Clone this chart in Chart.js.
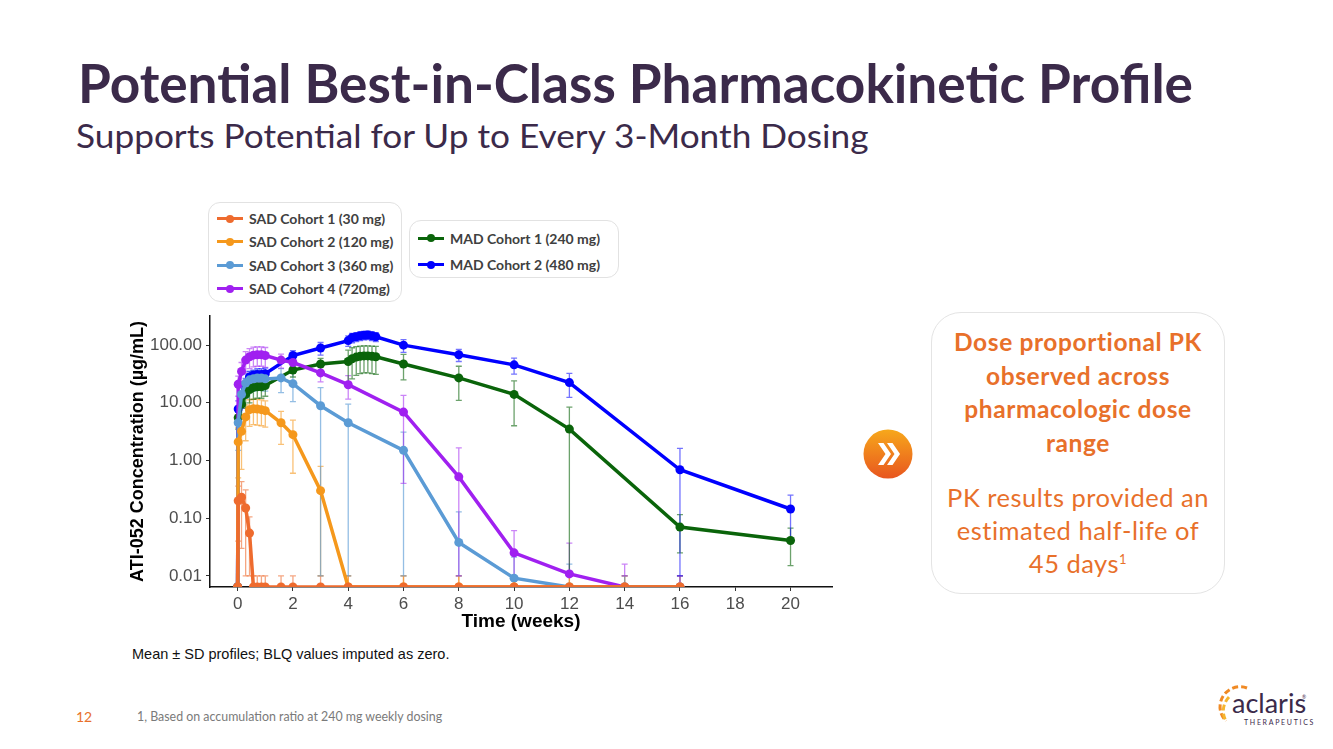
<!DOCTYPE html>
<html>
<head>
<meta charset="utf-8">
<script src="https://cdn.jsdelivr.net/npm/chart.js@4.4.1/dist/chart.umd.min.js"></script>
<style>
  html, body { margin: 0; padding: 0; background: #fff; }
  body { width: 1333px; height: 749px; position: relative; overflow: hidden; font-family: Lato, "Noto Sans", sans-serif; }
  .abs { position: absolute; white-space: nowrap; }
  #title { left: 78px; top: 56px; font-size: 53px; line-height: 1; font-weight: 700; color: #3b2a4a; transform-origin: 0 0; }
  #subtitle { left: 76px; top: 119px; font-size: 33px; line-height: 1; font-weight: 400; color: #3b2a4a; transform-origin: 0 0; }
  .legend-box { position: absolute; border: 1.5px solid #e2e2e2; border-radius: 12px; box-sizing: border-box; padding-top: 4px; }
  .legend-item { display: flex; align-items: center; font-size: 14px; font-weight: 700; color: #404040; }
  .legend-sample { position: relative; width: 26px; height: 3px; margin-left: 8px; margin-right: 6px; }
  .legend-sample i { position: absolute; left: 9px; top: -2.5px; width: 8px; height: 8px; border-radius: 50%; background: inherit; }
  #pk { position: absolute; left: 110px; top: 300px; }
  #note { left: 132px; top: 646px; font-family: "Liberation Sans", Arial, sans-serif; font-size: 14.5px; color: #111; }
  #callout { position: absolute; left: 931px; top: 312px; width: 294px; height: 282px; box-sizing: border-box; border: 1.5px solid #e4e4e4; border-radius: 30px; }
  #callout-bold { left: 931px; top: 325px; width: 294px; text-align: center; color: #e8702a; font-weight: 700; font-size: 24.5px; letter-spacing: 0.6px; line-height: 33.5px; white-space: normal; }
  #callout-reg { left: 931px; top: 481px; width: 294px; text-align: center; color: #e8702a; font-weight: 400; font-size: 25.5px; letter-spacing: 0.5px; line-height: 33px; white-space: normal; }
  #callout-reg sup { font-size: 13px; vertical-align: 9px; line-height: 0; }
  #pagenum { left: 76px; top: 708px; font-size: 14px; color: #e8702a; }
  #footnote { left: 137px; top: 709px; font-size: 12.4px; color: #7a7a7a; }
</style>
</head>
<body>

<div id="title" class="abs">Potential Best-in-Class Pharmacokinetic Profile</div>
<div id="subtitle" class="abs">Supports Potential for Up to Every 3-Month Dosing</div>

<div id="legend1" class="legend-box" style="left:208px;top:202px;width:194px;height:100px;"></div>
<div id="legend2" class="legend-box" style="left:409px;top:220px;width:210px;height:58px;"></div>

<canvas id="pk" width="740" height="340"></canvas>

<div id="note" class="abs">Mean ± SD profiles; BLQ values imputed as zero.</div>

<svg class="abs" style="left:863px;top:429px" width="50" height="50" viewBox="0 0 50 50">
  <defs>
    <linearGradient id="og" x1="0" y1="0" x2="0" y2="1">
      <stop offset="0" stop-color="#f7a81b"/>
      <stop offset="1" stop-color="#e8561f"/>
    </linearGradient>
  </defs>
  <circle cx="25" cy="25" r="24.5" fill="url(#og)"/>
  <path d="M15 14 L22.5 25 L15 36 L20.5 36 L28 25 L20.5 14 Z M24 14 L31.5 25 L24 36 L29.5 36 L37 25 L29.5 14 Z" fill="#fff"/>
</svg>

<div id="callout"></div>
<div id="callout-bold" class="abs">Dose proportional PK<br>observed across<br>pharmacologic dose<br>range</div>
<div id="callout-reg" class="abs">PK results provided an<br>estimated half-life of<br>45 days<sup>1</sup></div>

<div id="pagenum" class="abs">12</div>
<div id="footnote" class="abs">1, Based on accumulation ratio at 240 mg weekly dosing</div>

<svg class="abs" style="left:1205px;top:675px" width="125" height="60" viewBox="0 0 125 60">
  <path d="M42 13 A20 20 0 0 0 21 46" fill="none" stroke="#f08a24" stroke-width="3" stroke-dasharray="6 3"/>
  <path d="M24 22 A20 20 0 0 0 21 46" fill="none" stroke="#f5b52e" stroke-width="3" stroke-dasharray="6 3"/>
  <text x="27" y="38" font-family="Lato, sans-serif" font-size="27" fill="#3b2a4a">aclaris</text>
  <text x="97" y="24" font-family="Lato, sans-serif" font-size="5" fill="#3b2a4a">®</text>
  <text x="39" y="50" font-family="Lato, sans-serif" font-size="7" letter-spacing="1.7" fill="#3b2a4a">THERAPEUTICS</text>
</svg>

<script>
// time points (weeks)
const sadWeeks = [0, 0.02, 0.14, 0.29, 0.43, 0.57, 0.71, 0.86, 1, 1.57, 2, 3, 4, 6, 8, 10, 12, 14, 16];
const madWeeks = [0, 0.02, 0.14, 0.29, 0.43, 0.57, 0.71, 0.86, 1, 2, 3, 4, 4.14, 4.29, 4.43, 4.57, 4.71, 4.86, 5, 6, 8, 10, 12, 16, 20];

// mean and SD concentration (ug/mL), 0 = BLQ, null = no error bar
const sad1Mean = [0, 0.20, 0.23, 0.15, 0.055, 0, 0, 0, 0, 0, 0, 0, 0, 0, 0, 0, 0, 0, 0];
const sad1Sd   = [null, 0.16, 0.2, 0.16, 0.05, 0, 0, 0, 0, 0, 0, 0, 0, 0, 0, 0, 0, 0, 0];
const sad2Mean = [0, 2.1, 3.2, 5.7, 7.6, 7.9, 7.8, 7.6, 7.3, 4.5, 2.8, 0.30, 0, 0, 0, 0, 0, 0, 0];
const sad2Sd   = [null, 1.6, 2.5, 3.5, 3.7, 3.7, 3.7, 3.6, 3.5, 2.6, 2.2, 0.49, 0, 0, 0, 0, 0, 0, 0];
const sad3Mean = [0, 4.5, 14, 22, 25, 26, 27, 27, 26, 27, 21.5, 8.9, 4.5, 1.5, 0.038, 0.0091, 0, 0, 0];
const sad3Sd   = [null, 3, 8, 10, 10, 10, 10, 10, 10, 12, 11, 9.5, 5, 1.6, 0.09, 0.012, 0.016, 0, 0];
const sad4Mean = [0, 21, 35, 55, 63, 67, 68, 68, 66, 55, 50, 33, 20.6, 6.9, 0.52, 0.025, 0.0108, 0, 0];
const sad4Sd   = [null, 8, 15, 22, 24, 25, 25, 25, 25, 15, 14, 10, 9, 6.5, 1.13, 0.036, 0.026, 0.016, 0];
const mad1Mean = [0, 5.5, 9.5, 14, 17, 18.5, 19, 19, 20, 37, 47, 52, 58, 62, 64, 65, 65, 64, 63, 47, 27, 14, 3.5, 0.07, 0.041];
const mad1Sd   = [null, 2, 4, 6, 7, 7, 7, 7, 7, 9, 12, 30, 32, 32, 32, 32, 32, 32, 32, 22, 16, 10, 4.9, 0.045, 0.026];
const mad2Mean = [0, 7.8, 13.2, 20.6, 28, 30, 31, 31, 32, 66, 89, 120, 135, 140, 145, 148, 150, 145, 140, 100, 68, 45.5, 22.4, 0.69, 0.144];
const mad2Sd   = [null, 3, 5, 6, 7, 7, 8, 8, 8, 14, 22, 25, 25, 25, 25, 25, 25, 25, 25, 25, 16, 14, 10, 0.93, 0.106];

const seriesNames = ['SAD Cohort 1 (30 mg)', 'SAD Cohort 2 (120 mg)', 'SAD Cohort 3 (360 mg)', 'SAD Cohort 4 (720mg)', 'MAD Cohort 1 (240 mg)', 'MAD Cohort 2 (480 mg)'];
const seriesColors = ['#ee6b2e', '#f5981c', '#5b9bd5', '#a020f0', '#0a640a', '#0000ff'];
const barColors = ['rgba(238,107,46,0.6)', 'rgba(245,152,28,0.6)', 'rgba(91,155,213,0.65)', 'rgba(160,32,240,0.55)', 'rgba(10,100,10,0.6)', 'rgba(0,0,255,0.55)'];

const xTicks = [0, 2, 4, 6, 8, 10, 12, 14, 16, 18, 20];
const yTicks = [0.01, 0.1, 1, 10, 100];
const yTickLabels = ['0.01', '0.10', '1.00', '10.00', '100.00'];

const yMin = 0.0064, yMax = 320;   // axis range
const blqFloor = 0.01;             // lower error bars are cut at this level

const series = [
  [sadWeeks, sad1Mean, sad1Sd],
  [sadWeeks, sad2Mean, sad2Sd],
  [sadWeeks, sad3Mean, sad3Sd],
  [sadWeeks, sad4Mean, sad4Sd],
  [madWeeks, mad1Mean, mad1Sd],
  [madWeeks, mad2Mean, mad2Sd]
];

// html legend in two boxes
function legendItem(i, h) {
  const row = document.createElement('div');
  row.className = 'legend-item';
  row.style.height = h + 'px';
  row.innerHTML = '<span class="legend-sample" style="background:' + seriesColors[i] + '"><i></i></span>' + seriesNames[i];
  return row;
}
[0, 1, 2, 3].forEach(i => document.getElementById('legend1').appendChild(legendItem(i, 23.3)));
[4, 5].forEach(i => document.getElementById('legend2').appendChild(legendItem(i, 26.5)));

// stretch headings to the slide width
function fitWidth(id, w) {
  const el = document.getElementById(id);
  el.style.transform = 'scaleX(' + (w / el.offsetWidth) + ')';
}
fitWidth('title', 1115);
fitWidth('subtitle', 792);

const errorBars = {
  id: 'errorBars',
  beforeDatasetsDraw(chart) {
    const { ctx, chartArea: a, scales: { x, y } } = chart;
    ctx.save();
    ctx.beginPath();
    ctx.rect(a.left, a.top - 6, a.right - a.left, a.bottom - a.top + 6);
    ctx.clip();
    chart.data.datasets.forEach(ds => {
      ctx.strokeStyle = ds.barColor;
      ctx.lineWidth = 1.3;
      ds.means.forEach((m, j) => {
        const s = ds.sds[j];
        if (s === null) return;
        const px = x.getPixelForValue(ds.weeks[j]);
        const hiV = m + s;
        const hi = hiV > 0 ? y.getPixelForValue(hiV) : a.bottom;
        const lo = y.getPixelForValue(Math.max(m - s, blqFloor));
        ctx.beginPath();
        ctx.moveTo(px, hi); ctx.lineTo(px, lo);
        ctx.moveTo(px - 3, hi); ctx.lineTo(px + 3, hi);
        ctx.moveTo(px - 3, lo); ctx.lineTo(px + 3, lo);
        ctx.stroke();
      });
    });
    ctx.restore();
  }
};

const axisFont = { family: '"Liberation Sans", Arial, sans-serif', size: 17 };
const titleFont = { family: '"Liberation Sans", Arial, sans-serif', weight: 'bold' };

new Chart(document.getElementById('pk'), {
  type: 'line',
  data: {
    datasets: series.map(([weeks, means, sds], i) => ({
      label: seriesNames[i],
      data: weeks.map((t, j) => ({ x: t, y: means[j] > 0 ? means[j] : yMin })),
      weeks: weeks,
      means: means,
      sds: sds,
      barColor: barColors[i],
      borderColor: seriesColors[i],
      backgroundColor: seriesColors[i],
      pointBackgroundColor: seriesColors[i],
      borderWidth: 3.5,
      pointRadius: 4.5,
      pointBorderWidth: 0,
      tension: 0,
      clip: { left: 8, top: 8, right: 8, bottom: 0 }
    }))
  },
  options: {
    responsive: false,
    animation: false,
    layout: { padding: { top: 16, right: 18, left: 0, bottom: 0 } },
    plugins: { legend: { display: false }, tooltip: { enabled: false } },
    scales: {
      x: {
        type: 'linear',
        min: -1,
        max: 21.5,
        afterBuildTicks: s => { s.ticks = xTicks.map(v => ({ value: v })); },
        afterFit: s => { s.height = 53; },
        grid: { drawOnChartArea: false, tickLength: 4, color: '#333' },
        border: { color: '#111', width: 1.5 },
        ticks: { color: '#4d4d4d', font: axisFont, padding: 3, maxRotation: 0, autoSkip: false },
        title: { display: true, text: 'Time (weeks)', color: '#000', font: Object.assign({ size: 19 }, titleFont), padding: { top: 0, bottom: 7 } }
      },
      y: {
        type: 'logarithmic',
        min: yMin,
        max: yMax,
        afterBuildTicks: s => { s.ticks = yTicks.map(v => ({ value: v })); },
        afterFit: s => { s.width = 100; },
        grid: { drawOnChartArea: false, tickLength: 4, color: '#333' },
        border: { color: '#111', width: 1.5 },
        ticks: { color: '#4d4d4d', font: axisFont, padding: 4, autoSkip: false, callback: (v, i) => yTickLabels[i] },
        title: { display: true, text: 'ATI-052 Concentration (µg/mL)', color: '#000', font: Object.assign({ size: 18 }, titleFont), padding: { top: 17, bottom: 0 } }
      }
    }
  },
  plugins: [errorBars]
});
</script>
</body>
</html>
